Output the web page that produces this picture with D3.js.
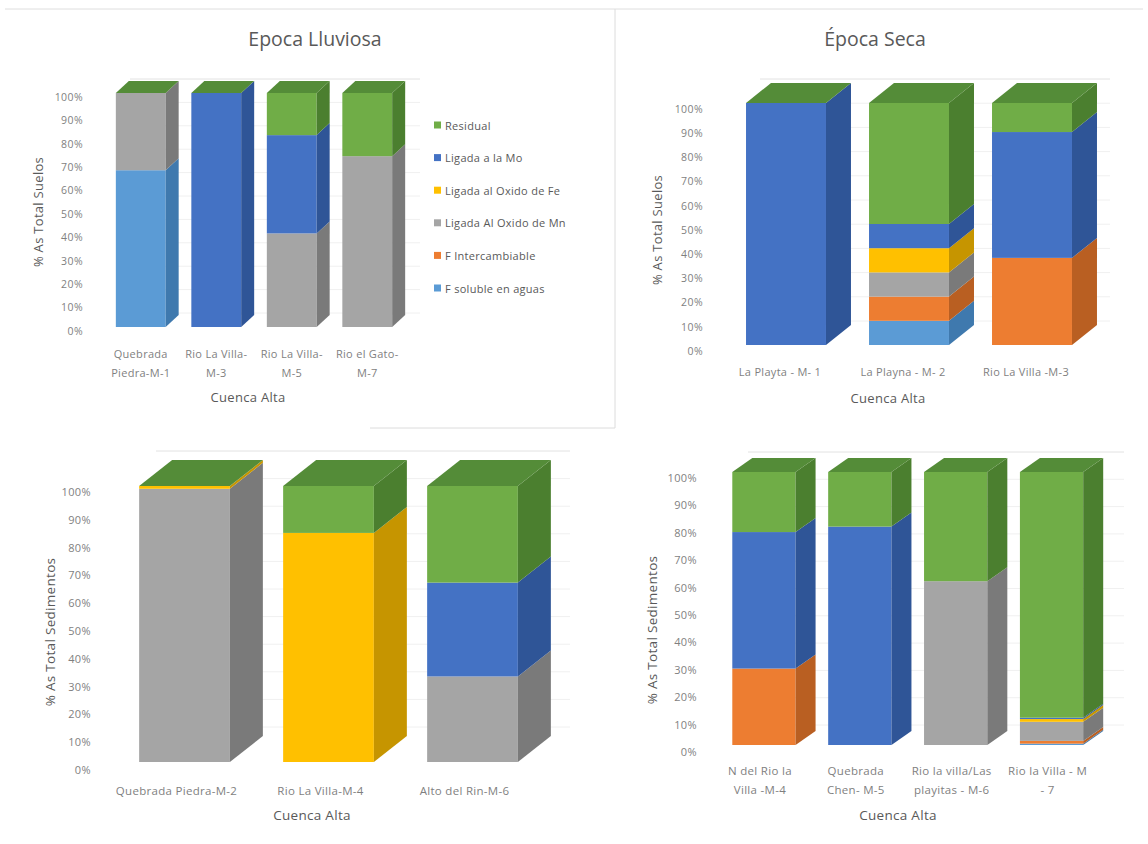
<!DOCTYPE html>
<html>
<head>
<meta charset="utf-8">
<script src="https://cdn.jsdelivr.net/npm/d3@7"></script>
<style>
  body { margin: 0; background: #fff; }
  svg { display: block; font-family: "Open Sans", "Noto Sans", sans-serif; }
</style>
</head>
<body>
<svg id="chart" width="1148" height="844"></svg>
<script>
// ---- Fractions (series order = stacking order, bottom to top) ----
const seriesKeys  = ["soluble", "interc", "oxMn", "oxFe", "mo", "resid"];
const seriesNames = ["F soluble en aguas", "F Intercambiable", "Ligada Al Oxido de Mn",
                     "Ligada al Oxido de Fe", "Ligada a la Mo", "Residual"];
const tickValues  = [0, 10, 20, 30, 40, 50, 60, 70, 80, 90, 100];

// Suelos, época lluviosa
const suelosLluviosaCats = [["Quebrada", "Piedra-M-1"], ["Rio La Villa-", "M-3"], ["Rio La Villa-", "M-5"], ["Rio el Gato-", "M-7"]];
const suelosLluviosaSoluble = [67, 0, 0, 0];
const suelosLluviosaInterc  = [0, 0, 0, 0];
const suelosLluviosaOxMn    = [33, 0, 40, 73];
const suelosLluviosaOxFe    = [0, 0, 0, 0];
const suelosLluviosaMo      = [0, 100, 42, 0];
const suelosLluviosaResid   = [0, 0, 18, 27];

// Suelos, época seca
const suelosSecaCats = [["La Playta - M- 1"], ["La Playna - M- 2"], ["Rio La Villa -M-3"]];
const suelosSecaSoluble = [0, 10, 0];
const suelosSecaInterc  = [0, 10, 36];
const suelosSecaOxMn    = [0, 10, 0];
const suelosSecaOxFe    = [0, 10, 0];
const suelosSecaMo      = [100, 10, 52];
const suelosSecaResid   = [0, 50, 12];

// Sedimentos, época lluviosa
const sedLluviosaCats = [["Quebrada Piedra-M-2"], ["Rio La Villa-M-4"], ["Alto del Rin-M-6"]];
const sedLluviosaSoluble = [0, 0, 0];
const sedLluviosaInterc  = [0, 0, 0];
const sedLluviosaOxMn    = [99, 0, 31];
const sedLluviosaOxFe    = [1, 83, 0];
const sedLluviosaMo      = [0, 0, 34];
const sedLluviosaResid   = [0, 17, 35];

// Sedimentos, época seca
const sedSecaCats = [["N del Rio la", "Villa -M-4"], ["Quebrada", "Chen- M-5"], ["Rio la villa/Las", "playitas - M-6"], ["Rio la Villa - M", "- 7"]];
const sedSecaSoluble = [0, 0, 0, 0.5];
const sedSecaInterc  = [28, 0, 0, 1];
const sedSecaOxMn    = [0, 0, 60, 7];
const sedSecaOxFe    = [0, 0, 0, 1];
const sedSecaMo      = [50, 80, 0, 0.5];
const sedSecaResid   = [22, 20, 40, 90];

// ---- Styling ----
const frontColor = { soluble: "#5b9bd5", interc: "#ed7d31", oxMn: "#a5a5a5", oxFe: "#ffc000", mo: "#4472c4", resid: "#70ad47" };
const sideColor  = { soluble: "#3f79ae", interc: "#b95f22", oxMn: "#7a7a7a", oxFe: "#c69500", mo: "#2f5597", resid: "#4b7f2f" };
const topColor   = "#548c38";
const textDark = "#595959", textTick = "#7f7f7f", gridColor = "#f0f0f0";

const svg = d3.select("#chart");

function buildRows(cats, cols) {
  return cats.map((c, i) => {
    const row = { cat: c.join(" ") };
    seriesKeys.forEach((k, j) => row[k] = cols[j][i]);
    return row;
  });
}

function drawPanel(cfg, cats, cols) {
  const g = svg.append("g");
  const rows = buildRows(cats, cols);
  const x = d3.scaleBand().domain(rows.map(r => r.cat)).range(cfg.band)
    .paddingInner(cfg.pad).paddingOuter(cfg.pad / 2);
  const y = d3.scaleLinear().domain([0, 100]).range(cfg.yBar);
  const yAxisScale = d3.scaleLinear().domain([0, 100]).range(cfg.yAxis);
  const stacked = d3.stack().keys(seriesKeys)(rows);
  const dx = cfg.dx, dy = cfg.dy;

  // back-wall gridlines
  g.append("g").selectAll("line").data(tickValues).join("line")
    .attr("x1", cfg.gridX[0]).attr("x2", cfg.gridX[1])
    .attr("y1", d => y(d) - cfg.gridDy).attr("y2", d => y(d) - cfg.gridDy)
    .attr("stroke", d => d === 100 ? "#e2e2e2" : gridColor).attr("stroke-width", 1);

  // value axis
  const ax = g.append("g").attr("transform", `translate(${cfg.tickX},0)`)
    .call(d3.axisLeft(yAxisScale).tickValues(tickValues).tickFormat(d => d + "%").tickSize(0).tickPadding(0));
  ax.select(".domain").remove();
  ax.selectAll("text").attr("fill", textTick).style("font-size", cfg.tickFont + "px")
    .style("letter-spacing", "0.4px").style("font-family", "'Open Sans', sans-serif");

  // 3D stacked columns
  rows.forEach((row, i) => {
    const x0 = x(row.cat), x1 = x0 + x.bandwidth();
    const bar = g.append("g");
    stacked.forEach(layer => {
      const seg = layer[i];
      if (seg[1] - seg[0] <= 0) return;
      const yb = y(seg[0]), yt = y(seg[1]);
      bar.append("rect").attr("x", x0).attr("y", yt).attr("width", x1 - x0).attr("height", yb - yt)
        .attr("fill", frontColor[layer.key]);
      bar.append("path")
        .attr("d", `M${x1},${yb}L${x1 + dx},${yb - dy}L${x1 + dx},${yt - dy}L${x1},${yt}Z`)
        .attr("fill", sideColor[layer.key]);
    });
    const top = y(100);
    bar.append("path")
      .attr("d", `M${x0},${top}L${x0 + dx},${top - dy}L${x1 + dx},${top - dy}L${x1},${top}Z`)
      .attr("fill", topColor);
  });

  // category labels
  const lab = g.append("g").selectAll("text").data(cats).join("text")
    .attr("text-anchor", "middle").attr("fill", textTick).style("font-size", cfg.xFont + "px")
    .style("letter-spacing", "0.3px")
    .attr("x", (d, i) => x(rows[i].cat) + x.bandwidth() / 2 + cfg.labelShift);
  lab.selectAll("tspan").data(d => d).join("tspan")
    .attr("x", function () { return d3.select(this.parentNode).attr("x"); })
    .attr("y", (d, j) => cfg.xLabelY + j * cfg.lineH)
    .attr("dominant-baseline", "central")
    .text(d => d);

  // axis titles
  g.append("text").attr("x", cfg.xTitle[0]).attr("y", cfg.xTitle[1]).attr("text-anchor", "middle")
    .attr("dominant-baseline", "central").attr("fill", textDark).style("font-size", cfg.titleFont + "px")
    .style("letter-spacing", "0.3px").text("Cuenca Alta");
  g.append("text").attr("transform", `translate(${cfg.yTitle[0]},${cfg.yTitle[1]}) rotate(-90)`)
    .attr("text-anchor", "middle").attr("dominant-baseline", "central").attr("fill", textDark)
    .style("font-size", cfg.titleFont + "px").style("letter-spacing", "0.3px").text(cfg.yTitleText);

  if (cfg.title) {
    g.append("text").attr("x", cfg.title[0]).attr("y", cfg.title[1]).attr("text-anchor", "middle")
      .attr("dominant-baseline", "central").attr("fill", textDark).style("font-size", "19.5px")
      .text(cfg.title[2]);
  }
}

// frame lines between the panels
svg.append("line").attr("x1", 5).attr("x2", 1143).attr("y1", 9).attr("y2", 9).attr("stroke", "#dedede");
svg.append("line").attr("x1", 615).attr("x2", 615).attr("y1", 9).attr("y2", 428).attr("stroke", "#dcdcdc");
svg.append("line").attr("x1", 370).attr("x2", 615).attr("y1", 428).attr("y2", 428).attr("stroke", "#dcdcdc");

drawPanel({
  band: [103, 405], pad: 0.34, yBar: [327, 93], yAxis: [331, 97], dx: 13, dy: 12,
  gridX: [130, 420], gridDy: 14, tickX: 83, tickFont: 10.5, xFont: 11, xLabelY: 353, lineH: 19, labelShift: 0,
  xTitle: [248, 397], yTitle: [38, 212], yTitleText: "% As Total Suelos", titleFont: 13,
  title: [315, 38, "Epoca Lluviosa"]
}, suelosLluviosaCats, [suelosLluviosaSoluble, suelosLluviosaInterc, suelosLluviosaOxMn, suelosLluviosaOxFe, suelosLluviosaMo, suelosLluviosaResid]);

drawPanel({
  band: [724.5, 1093.5], pad: 0.35, yBar: [345, 103], yAxis: [351, 109], dx: 25, dy: 20,
  gridX: [760, 1110], gridDy: 24, tickX: 703, tickFont: 10.5, xFont: 11, xLabelY: 371, lineH: 19, labelShift: -6,
  xTitle: [888, 398], yTitle: [657, 230], yTitleText: "% As Total Suelos", titleFont: 13,
  title: [875, 38, "Época Seca"]
}, suelosSecaCats, [suelosSecaSoluble, suelosSecaInterc, suelosSecaOxMn, suelosSecaOxFe, suelosSecaMo, suelosSecaResid]);

drawPanel({
  band: [112.5, 544.5], pad: 0.37, yBar: [762, 486], yAxis: [770, 492], dx: 33, dy: 26,
  gridX: [156, 570], gridDy: 35, tickX: 91, tickFont: 11, xFont: 11.5, xLabelY: 790, lineH: 19, labelShift: -8,
  xTitle: [312, 815], yTitle: [50, 632], yTitleText: "% As Total Sedimentos", titleFont: 13.5
}, sedLluviosaCats, [sedLluviosaSoluble, sedLluviosaInterc, sedLluviosaOxMn, sedLluviosaOxFe, sedLluviosaMo, sedLluviosaResid]);

drawPanel({
  band: [716, 1099.5], pad: 0.34, yBar: [745, 472], yAxis: [752, 478], dx: 20, dy: 14,
  gridX: [748, 1124], gridDy: 20, tickX: 697, tickFont: 11, xFont: 11.5, xLabelY: 770, lineH: 19, labelShift: -4,
  xTitle: [898, 815], yTitle: [652, 630], yTitleText: "% As Total Sedimentos", titleFont: 13.5
}, sedSecaCats, [sedSecaSoluble, sedSecaInterc, sedSecaOxMn, sedSecaOxFe, sedSecaMo, sedSecaResid]);

// legend (top series first)
const legend = svg.append("g");
const legendItems = seriesKeys.map((k, i) => ({ key: k, name: seriesNames[i] })).reverse();
const ly = d3.scalePoint().domain(legendItems.map(d => d.key)).range([125, 288]);
const li = legend.selectAll("g").data(legendItems).join("g")
  .attr("transform", d => `translate(434,${ly(d.key)})`);
li.append("rect").attr("x", 0).attr("y", -3.5).attr("width", 7).attr("height", 7).attr("fill", d => frontColor[d.key]);
li.append("text").attr("x", 11).attr("y", 0).attr("dominant-baseline", "central")
  .attr("fill", textDark).style("font-size", "11px").style("letter-spacing", "0.3px").text(d => d.name);
</script>
</body>
</html>
